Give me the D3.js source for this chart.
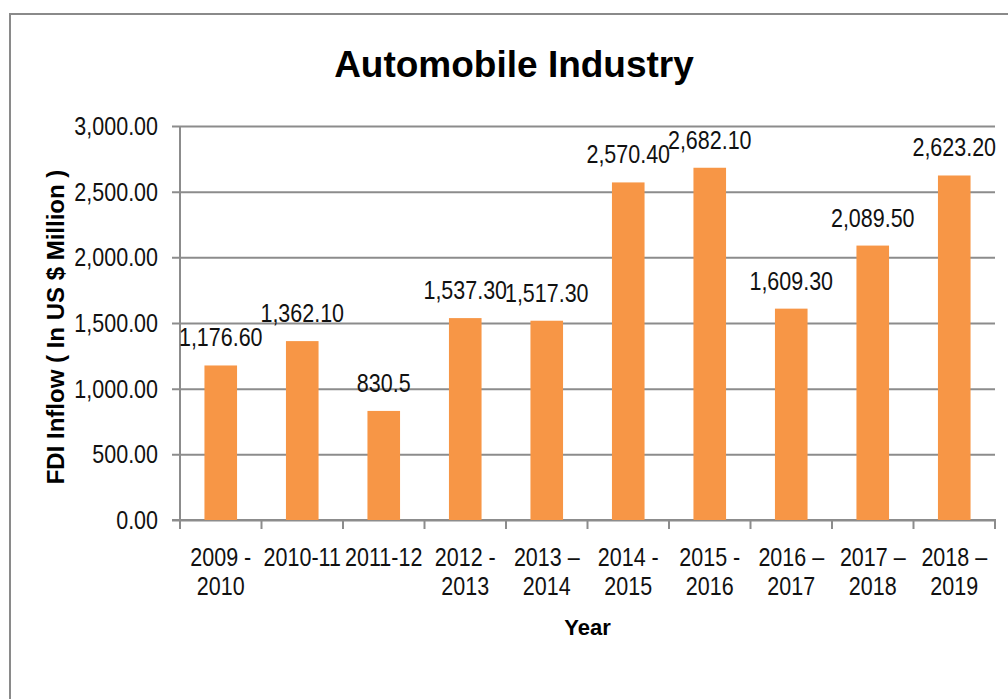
<!DOCTYPE html>
<html>
<head>
<meta charset="utf-8">
<script src="https://cdn.jsdelivr.net/npm/d3@7"></script>
<style>
  html, body { margin: 0; padding: 0; background: #fff; }
  svg { display: block; }
</style>
</head>
<body>
<svg id="chart" width="1008" height="699"></svg>
<script>
// FDI inflow into the automobile industry, by financial year (US $ million)
const categories = [
  ["2009 -", "2010"],
  ["2010-11"],
  ["2011-12"],
  ["2012 -", "2013"],
  ["2013 \u2013", "2014"],
  ["2014 -", "2015"],
  ["2015 -", "2016"],
  ["2016 \u2013", "2017"],
  ["2017 \u2013", "2018"],
  ["2018 \u2013", "2019"]
];
const values = [1176.6, 1362.1, 830.5, 1537.3, 1517.3, 2570.4, 2682.1, 1609.3, 2089.5, 2623.2];
// decimals shown in each value label
const labelDecimals = [2, 2, 1, 2, 2, 2, 2, 2, 2, 2];
const yTicks = [0, 500, 1000, 1500, 2000, 2500, 3000];

const chartTitle = "Automobile Industry";
const yTitle = "FDI Inflow ( In US $ Million )";
const xTitle = "Year";

const svg = d3.select("#chart");
const W = 1008, H = 699;

const plot = { left: 180, right: 995, top: 126, bottom: 520 };
const gridColor = "#8c8c8c";
const barColor = "#f79646";
const baseFont = "'Liberation Sans', Arial, sans-serif";
const numSize = 25;
const squeeze = 0.86;   // horizontal condensing of the numeric text

// condensed text placed at (px, py)
function condensed(sel, px, py) {
  return sel
    .attr("x", 0).attr("y", 0)
    .attr("transform", (d, i) => `translate(${px(d, i)},${py(d, i)}) scale(${squeeze},1)`)
    .attr("fill", "#111")
    .style("font-family", baseFont)
    .style("font-size", numSize + "px");
}

svg.append("rect").attr("width", W).attr("height", H).attr("fill", "#fff");

// chart frame (runs off the right and bottom edges)
svg.append("rect")
  .attr("x", 10).attr("y", 14)
  .attr("width", W + 20).attr("height", H + 20)
  .attr("fill", "none")
  .attr("stroke", "#8a8a8a")
  .attr("stroke-width", 2);

const keys = categories.map(c => c.join(" "));
const x = d3.scaleBand()
  .domain(keys)
  .range([plot.left, plot.right])
  .paddingInner(0.6)
  .paddingOuter(0.3);
const step = x.step();
const cx = i => x(keys[i]) + x.bandwidth() / 2;

const y = d3.scaleLinear().domain([0, 3000]).range([plot.bottom, plot.top]);

// horizontal gridlines with short ticks left of the axis
const yAxis = d3.axisLeft(y)
  .tickValues(yTicks)
  .tickSize(-(plot.right - plot.left) - 8)
  .tickFormat("");

const gy = svg.append("g")
  .attr("transform", `translate(${plot.left - 8},0)`)
  .call(yAxis);
gy.select(".domain").remove();
gy.selectAll(".tick line")
  .attr("stroke", gridColor)
  .attr("stroke-width", 2);

// tick labels, right-aligned next to the ticks
const fmtTick = d3.format(",.2f");
condensed(
  svg.append("g").selectAll("text").data(yTicks).join("text"),
  () => plot.left - 22,
  d => y(d) + 9
)
  .attr("text-anchor", "end")
  .text(d => fmtTick(d));

// vertical axis line
svg.append("line")
  .attr("x1", plot.left).attr("x2", plot.left)
  .attr("y1", plot.top).attr("y2", plot.bottom)
  .attr("stroke", gridColor).attr("stroke-width", 2);

// category axis: baseline plus boundary ticks
svg.append("line")
  .attr("x1", plot.left - 8).attr("x2", plot.right + 1)
  .attr("y1", plot.bottom).attr("y2", plot.bottom)
  .attr("stroke", gridColor).attr("stroke-width", 2);

const boundaries = d3.range(categories.length + 1).map(i => plot.left + i * step);
svg.append("g").selectAll("line")
  .data(boundaries)
  .join("line")
  .attr("x1", d => d).attr("x2", d => d)
  .attr("y1", plot.bottom).attr("y2", plot.bottom + 9)
  .attr("stroke", gridColor).attr("stroke-width", 2);

// bars
svg.append("g").selectAll("rect")
  .data(values)
  .join("rect")
  .attr("x", (d, i) => x(keys[i]))
  .attr("y", d => y(d))
  .attr("width", x.bandwidth())
  .attr("height", d => plot.bottom - y(d))
  .attr("fill", barColor);

// value labels
condensed(
  svg.append("g").selectAll("text").data(values).join("text"),
  (d, i) => cx(i),
  d => y(d) - 19
)
  .attr("text-anchor", "middle")
  .text((d, i) => d3.format(`,.${labelDecimals[i]}f`)(d));

// category labels (one or two lines each)
const catLines = categories.flatMap((c, i) => c.map((line, j) => ({ line, i, j })));
condensed(
  svg.append("g").selectAll("text").data(catLines).join("text"),
  d => cx(d.i),
  d => 566 + d.j * 29
)
  .attr("text-anchor", "middle")
  .text(d => d.line);

// titles
svg.append("text")
  .attr("x", 514).attr("y", 77)
  .attr("text-anchor", "middle")
  .attr("fill", "#000")
  .style("font-family", baseFont)
  .style("font-weight", "bold")
  .style("font-size", "37px")
  .text(chartTitle);

svg.append("text")
  .attr("transform", "translate(64,327) rotate(-90)")
  .attr("text-anchor", "middle")
  .attr("fill", "#000")
  .style("font-family", baseFont)
  .style("font-weight", "bold")
  .style("font-size", "24px")
  .text(yTitle);

svg.append("text")
  .attr("x", (plot.left + plot.right) / 2).attr("y", 635)
  .attr("text-anchor", "middle")
  .attr("fill", "#000")
  .style("font-family", baseFont)
  .style("font-weight", "bold")
  .style("font-size", "22px")
  .text(xTitle);
</script>
</body>
</html>
